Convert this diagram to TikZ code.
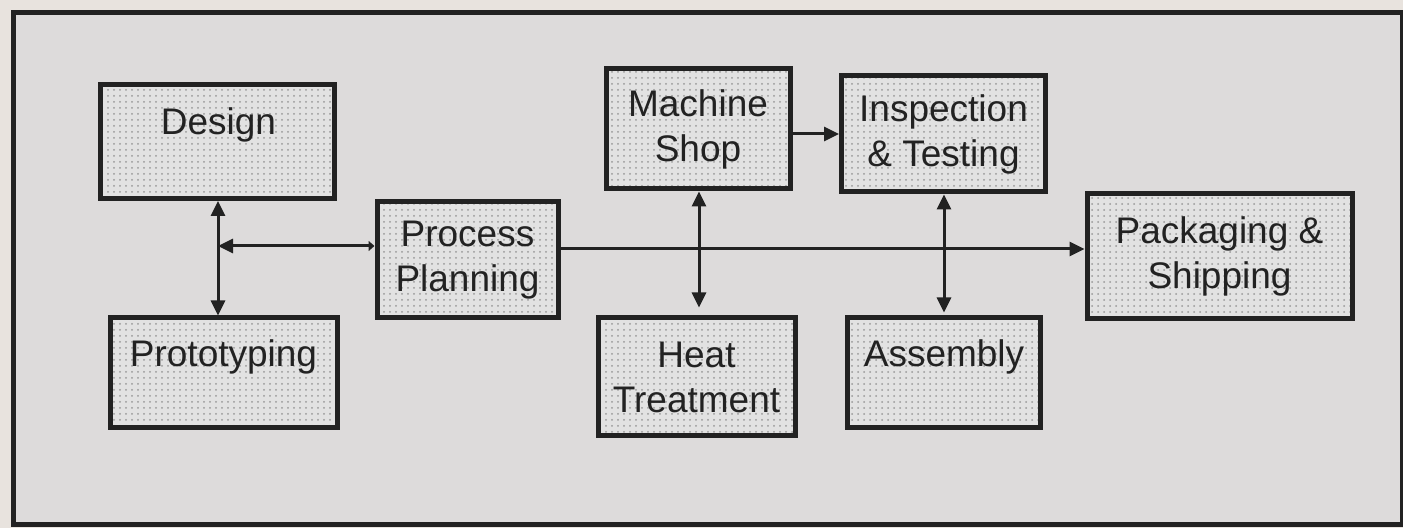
\documentclass[tikz,border=0pt]{standalone}
\usepackage{fontspec}
\setmainfont{Liberation Sans}
\usetikzlibrary{arrows.meta,patterns}
\definecolor{pagebg}{HTML}{E8E3DE}
\definecolor{panelbg}{HTML}{DDDBDB}
\definecolor{boxfill}{HTML}{E2E2E2}
\definecolor{ink}{HTML}{222222}
\begin{document}
\begin{tikzpicture}[x=0.5pt,y=-0.5pt,
  box/.style={draw=ink, line width=2.5pt, preaction={fill=boxfill}, pattern=dots, pattern color=gray!80,
    inner sep=0pt, align=center, text=ink, font=\fontsize{18.5}{22.5}\selectfont},
  boxtext/.style={inner sep=0pt, text=ink, font=\fontsize{18.5}{22.5}\selectfont},
  conn/.style={draw=ink, line width=1.5pt},
  bigtip/.tip={Triangle[length=7.5pt,width=7pt]},
  smalltip/.tip={Triangle[length=3pt,width=5pt]}
]
\useasboundingbox (0,0) rectangle (1403,528);
\fill[pagebg] (0,0) rectangle (1403,528);
\draw[ink, line width=2.5pt, fill=panelbg] (13,12.5) rectangle (1402,525);

\node[box, minimum width=117pt, minimum height=57pt] (design) at (217.5,141.5) {};
\node[boxtext] (designtext) at (218.5,125) {Design};
\node[box, minimum width=113.5pt, minimum height=55pt] (proto) at (223.5,373) {};
\node[boxtext] (prototext) at (223.5,357) {Prototyping};
\node[box, minimum width=90.5pt, minimum height=58pt] (planning) at (467.5,260) {Process\\Planning};
\node[box, minimum width=92pt, minimum height=60pt] (machine) at (698,129) {Machine\\Shop};
\node[box, minimum width=98.5pt, minimum height=59pt] (heat) at (696.5,377) {Heat\\Treatment};
\node[box, minimum width=102pt, minimum height=58pt] (inspect) at (943.5,134) {Inspection\\\& Testing};
\node[box, minimum width=96.5pt, minimum height=55pt] (assembly) at (944,373) {};
\node[boxtext] (assemblytext) at (944,357) {Assembly};
\node[box, minimum width=132.5pt, minimum height=62.5pt] (packaging) at (1219.5,256.5) {Packaging \&\\Shipping};

\coordinate (dpjoin) at (218,246);
\coordinate (mainy) at (0,249);
\coordinate (msy) at (0,134);
\coordinate (mhx) at (699,0);
\coordinate (iax) at (944,0);

\draw[conn, {bigtip}-{bigtip}] (design.south -| dpjoin) -- (proto.north -| dpjoin);
\draw[conn, {bigtip}-{smalltip}] (dpjoin) -- (dpjoin -| planning.west);
\draw[conn, -{bigtip}] (planning.east |- mainy) -- (packaging.west |- mainy);
\draw[conn, -{bigtip}] (machine.east |- msy) -- (inspect.west |- msy);
\draw[conn, {bigtip}-{bigtip}, shorten >=4pt] (machine.south -| mhx) -- (heat.north -| mhx);
\draw[conn, {bigtip}-{bigtip}, shorten >=1.5pt] (inspect.south -| iax) -- (assembly.north -| iax);
\end{tikzpicture}
\end{document}
